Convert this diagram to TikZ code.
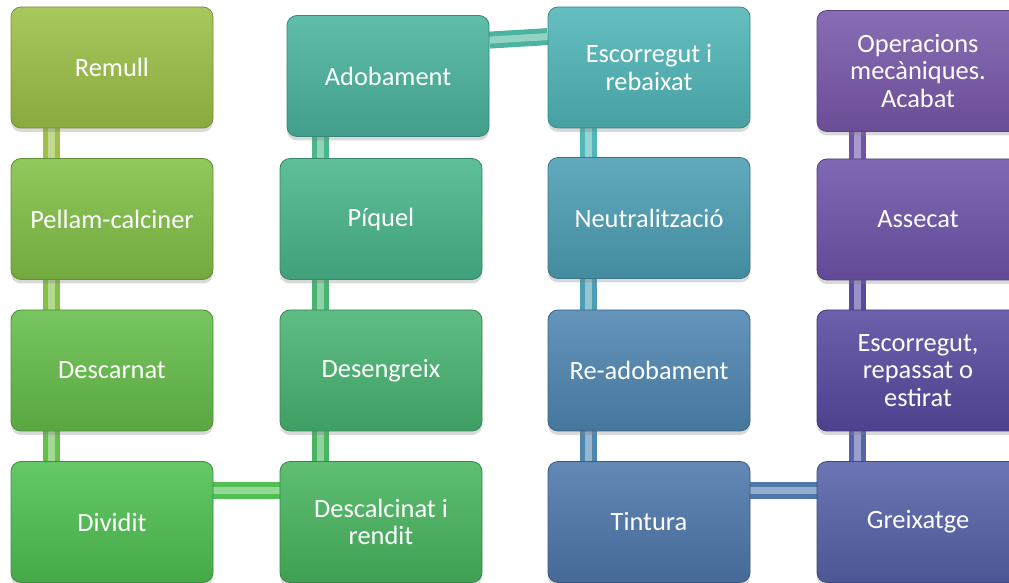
\documentclass[tikz,border=0pt]{standalone}
\usepackage{fontspec}
\setmainfont{Carlito}
\usepackage{xcolor}
\usepackage{tikz}
\usetikzlibrary{calc,shadows}

\definecolor{cRemull}{HTML}{9CC048}
\definecolor{cPellam}{HTML}{82C046}
\definecolor{cDescarn}{HTML}{66BE4B}
\definecolor{cDividit}{HTML}{50C052}
\definecolor{cAdob}{HTML}{4AB49E}
\definecolor{cPiquel}{HTML}{48B68A}
\definecolor{cDesengr}{HTML}{48B472}
\definecolor{cDescalc}{HTML}{48B660}
\definecolor{cEscorr}{HTML}{50B6B8}
\definecolor{cNeutral}{HTML}{4C9EB4}
\definecolor{cReadob}{HTML}{4F86B0}
\definecolor{cTintura}{HTML}{4F78AC}
\definecolor{cOperac}{HTML}{7858AA}
\definecolor{cAssecat}{HTML}{6E54AA}
\definecolor{cEstirat}{HTML}{584AA0}
\definecolor{cGreix}{HTML}{5862AA}

\pgfdeclarelayer{background}
\pgfsetlayers{background,main}

\begin{document}
\begin{tikzpicture}[
  x=0.5pt,
  y=-0.5pt,
  font=\fontsize{13.2}{13.8}\selectfont,
  stage/.style={rounded corners=5pt, minimum width=101pt, minimum height=60.5pt,
    inner sep=2pt, align=center, text=white,
    top color=#1!88!white, bottom color=#1!88!black, draw=#1!75!black, line width=0.4pt,
    drop shadow={shadow xshift=0pt, shadow yshift=-2pt, opacity=0.3}},
  link/.style={line width=8.5pt, draw=#1, line cap=butt,
    postaction={draw=white, draw opacity=0.4, line width=3.5pt}}
]

\clip (0,0) rectangle (1009,583);

% columna 1
\node[stage=cRemull] (remull) at (112,67.5) {Remull};
\node[stage=cPellam] (pellam) at (112,219) {Pellam-calciner};
\node[stage=cDescarn] (descarnat) at (112,370.5) {Descarnat};
\node[stage=cDividit] (dividit) at (112,522) {Dividit};

% columna 2
\node[stage=cAdob] (adobament) at (388,76) {Adobament};
\node[stage=cPiquel] (piquel) at (381,219) {Píquel};
\node[stage=cDesengr] (desengreix) at (381,370.5) {Desengreix};
\node[stage=cDescalc] (descalc) at (381,522) {Descalcinat i\\rendit};

% columna 3
\node[stage=cEscorr] (escorr) at (649,67.5) {Escorregut i\\rebaixat};
\node[stage=cNeutral] (neutral) at (649,218) {Neutralització};
\node[stage=cReadob] (readob) at (649,370.5) {Re-adobament};
\node[stage=cTintura] (tintura) at (649,522) {Tintura};

% columna 4
\node[stage=cOperac] (operac) at (918,71) {Operacions\\mecàniques.\\Acabat};
\node[stage=cAssecat] (assecat) at (918,219.5) {Assecat};
\node[stage=cEstirat] (estirat) at (918,370.5) {Escorregut,\\repassat o\\estirat};
\node[stage=cGreix] (greix) at (918,522) {Greixatge};

% connectors
\begin{pgfonlayer}{background}
\draw[link=cRemull] ([xshift=20.5pt]remull.south west) -- ([xshift=20.5pt]pellam.north west);
\draw[link=cPellam] ([xshift=20.5pt]pellam.south west) -- ([xshift=20.5pt]descarnat.north west);
\draw[link=cDescarn] ([xshift=20.5pt]descarnat.south west) -- ([xshift=20.5pt]dividit.north west);
\draw[link=cDividit] ([yshift=-14.5pt]dividit.north east) -- ([yshift=-14.5pt]descalc.north west);
\draw[link=cDescalc] ([xshift=20.5pt]descalc.north west) -- ([xshift=20.5pt]desengreix.south west);
\draw[link=cDesengr] ([xshift=20.5pt]desengreix.north west) -- ([xshift=20.5pt]piquel.south west);
\draw[link=cPiquel] ([xshift=20.5pt]piquel.north west) -- ([xshift=20.5pt]piquel.north west |- adobament.south);
\draw[link=cAdob] ([yshift=-12.5pt]adobament.north east) -- ([yshift=-15pt]escorr.north west);
\draw[link=cEscorr] ([xshift=20.5pt]escorr.south west) -- ([xshift=20.5pt]neutral.north west);
\draw[link=cNeutral] ([xshift=20.5pt]neutral.south west) -- ([xshift=20.5pt]readob.north west);
\draw[link=cReadob] ([xshift=20.5pt]readob.south west) -- ([xshift=20.5pt]tintura.north west);
\draw[link=cTintura] ([yshift=-14.5pt]tintura.north east) -- ([yshift=-14.5pt]greix.north west);
\draw[link=cGreix] ([xshift=20.5pt]greix.north west) -- ([xshift=20.5pt]estirat.south west);
\draw[link=cEstirat] ([xshift=20.5pt]estirat.north west) -- ([xshift=20.5pt]assecat.south west);
\draw[link=cAssecat] ([xshift=20.5pt]assecat.north west) -- ([xshift=20.5pt]assecat.north west |- operac.south);
\end{pgfonlayer}

\end{tikzpicture}
\end{document}
